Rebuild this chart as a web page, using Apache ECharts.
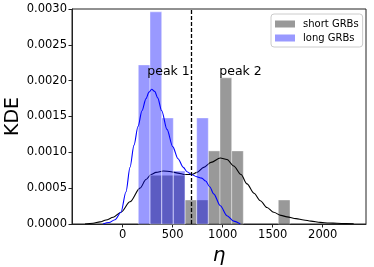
<!DOCTYPE html>
<html>
<head>
<meta charset="utf-8">
<script src="https://cdn.jsdelivr.net/npm/echarts@6/dist/echarts.min.js"></script>
<style>
html,body{margin:0;padding:0;background:#fff;}
#chart{width:374px;height:267px;}
</style>
</head>
<body>
<div id="chart"></div>
<script>
// histogram bin edges (shared by both histograms)
var binEdges = [156, 273, 390, 506, 623, 740, 856, 973, 1090, 1206, 1323, 1440, 1556, 1673];
// long GRBs histogram density per bin
var longHist = [0.00222, 0.00296, 0.00148, 0.00074, 0, 0.00148, 0, 0, 0, 0, 0, 0, 0];
// short GRBs histogram density per bin
var shortHist = [0, 0.00068, 0.00068, 0.00068, 0.000335, 0.000335, 0.00102, 0.00204, 0.00102, 0, 0, 0, 0.000335];
// KDE curves: x values and densities
var longKdeX = [-197, -137, -77, -17, 33, 73, 113, 153, 193, 233, 263, 290, 320, 350, 390, 443, 500, 553, 606, 643, 690, 740, 790, 830, 870, 910, 976, 1043, 1110, 1176];
var longKdeY = [0, 0.00002, 0.00006, 0.000165, 0.00045, 0.00079, 0.00110, 0.00136, 0.00158, 0.00175, 0.00184, 0.00188, 0.00185, 0.00176, 0.00158, 0.00132, 0.00108, 0.00091, 0.00079, 0.00073, 0.00069, 0.00066, 0.00064, 0.00060, 0.00052, 0.00042, 0.000255, 0.000116, 0.00004, 0];
var shortKdeX = [-377, -297, -227, -167, -94, -17, 73, 173, 233, 283, 333, 406, 483, 553, 616, 690, 743, 810, 883, 976, 1043, 1110, 1183, 1243, 1313, 1376, 1443, 1510, 1583, 1643, 1733, 1810, 1883, 1976, 2063, 2143, 2233, 2310];
var shortKdeY = [0, 0.00001, 0.00003, 0.000055, 0.000094, 0.000165, 0.00031, 0.00050, 0.00062, 0.00069, 0.00072, 0.00074, 0.00073, 0.00071, 0.00069, 0.00069, 0.00072, 0.00079, 0.00086, 0.00092, 0.00090, 0.00081, 0.00069, 0.00056, 0.00043, 0.000325, 0.00023, 0.000163, 0.00012, 0.00010, 0.000075, 0.000056, 0.00004, 0.000023, 0.000014, 0.00001, 0.000005, 0.000003];
// separator line and peak annotations
var cutX = 690;
var peakLabels = ['peak 1', 'peak 2'];
var peakX = [246, 966];
var peakY = [0.00213, 0.00213];
// axis ticks
var xTicks = [0, 500, 1000, 1500, 2000];
var yTicks = [0, 0.0005, 0.001, 0.0015, 0.002, 0.0025, 0.003];

function histData(h) {
  var out = [];
  for (var i = 0; i < h.length; i++) {
    if (h[i] > 0) out.push([binEdges[i], binEdges[i + 1], h[i]]);
  }
  return out;
}
function zip(xs, ys) {
  return xs.map(function (x, i) { return [x, ys[i]]; });
}
function histRender(fill) {
  return function (params, api) {
    var p0 = api.coord([api.value(0), 0]);
    var p1 = api.coord([api.value(1), api.value(2)]);
    return {
      type: 'rect',
      shape: { x: p0[0], y: p1[1], width: p1[0] - p0[0], height: p0[1] - p1[1] },
      style: { fill: fill, stroke: 'rgba(255,255,255,0.4)', lineWidth: 1 }
    };
  };
}
var FONT = '"DejaVu Sans", "Liberation Sans", sans-serif';

var chart = echarts.init(document.getElementById('chart'), null, { renderer: 'canvas' });
chart.setOption({
  animation: false,
  backgroundColor: '#fff',
  grid: { left: 72, right: 8, top: 9, bottom: 43, outerBoundsMode: 'none', containLabel: false,
    show: true, borderColor: '#222', borderWidth: 1, backgroundColor: 'transparent' },
  legend: {
    orient: 'vertical', left: 271, top: 14,
    data: ['short GRBs', 'long GRBs'],
    icon: 'rect', itemWidth: 20, itemHeight: 7, itemGap: 4,
    padding: [5, 4, 4, 4],
    borderColor: '#ccc', borderWidth: 1, borderRadius: 3,
    backgroundColor: 'rgba(255,255,255,0.8)',
    textStyle: { fontSize: 10, fontFamily: FONT, color: '#000', padding: [0, 0, 0, 3] }
  },
  xAxis: {
    type: 'value', min: -507, max: 2433,
    name: 'η', nameLocation: 'middle', nameGap: 22, nameMoveOverlap: false,
    nameTextStyle: { fontSize: 20, fontStyle: 'italic', fontFamily: FONT, color: '#000' },
    axisLine: { show: true, onZero: false, lineStyle: { color: '#222', width: 1 } },
    axisTick: { show: true, length: 3.5, lineStyle: { color: '#222' }, customValues: xTicks },
    axisLabel: { fontSize: 11.5, fontFamily: FONT, color: '#000', margin: 5, customValues: xTicks,
      formatter: function (v) { return String(v); } },
    splitLine: { show: false }
  },
  yAxis: {
    type: 'value', min: 0, max: 0.003, interval: 0.0005,
    name: 'KDE', nameLocation: 'middle', nameGap: 49, nameMoveOverlap: false,
    nameTextStyle: { fontSize: 19, fontFamily: FONT, color: '#000' },
    axisLine: { show: true, onZero: false, lineStyle: { color: '#222', width: 1 } },
    axisTick: { show: true, length: 3.5, lineStyle: { color: '#222' }, customValues: yTicks },
    axisLabel: { fontSize: 11.5, fontFamily: FONT, color: '#000', margin: 5, customValues: yTicks,
      formatter: function (v) { return v.toFixed(4); } },
    splitLine: { show: false }
  },
  series: [
    {
      name: 'short GRBs', type: 'custom', renderItem: histRender('rgba(0,0,0,0.4)'),
      itemStyle: { color: 'rgba(0,0,0,0.4)' },
      encode: { x: [0, 1], y: 2 }, data: histData(shortHist), z: 1
    },
    {
      name: 'short KDE', type: 'line', data: zip(shortKdeX, shortKdeY), smooth: 0.3, smoothMonotone: 'x',
      showSymbol: false, symbol: 'none', lineStyle: { color: '#000', width: 1.1 }, z: 2
    },
    {
      name: 'long GRBs', type: 'custom', renderItem: histRender('rgba(0,0,255,0.4)'),
      itemStyle: { color: 'rgba(0,0,255,0.4)' },
      encode: { x: [0, 1], y: 2 }, data: histData(longHist), z: 3
    },
    {
      name: 'long KDE', type: 'line', data: zip(longKdeX, longKdeY), smooth: 0.3, smoothMonotone: 'x',
      showSymbol: false, symbol: 'none', lineStyle: { color: '#0000ff', width: 1.1 }, z: 4,
      markLine: {
        silent: true, symbol: 'none', label: { show: false },
        lineStyle: { color: '#000', width: 1.3, type: [4, 2] },
        data: [{ xAxis: cutX }]
      }
    },
    {
      name: 'peaks', type: 'custom', z: 5,
      data: peakLabels.map(function (t, i) { return [peakX[i], peakY[i], t]; }),
      encode: { x: 0, y: 1 },
      renderItem: function (params, api) {
        var p = api.coord([api.value(0), api.value(1)]);
        return {
          type: 'text', x: p[0], y: p[1],
          style: { text: peakLabels[params.dataIndex], fill: '#000', font: '12.5px ' + FONT, align: 'left', verticalAlign: 'middle' }
        };
      }
    }
  ]
});
</script>
</body>
</html>
